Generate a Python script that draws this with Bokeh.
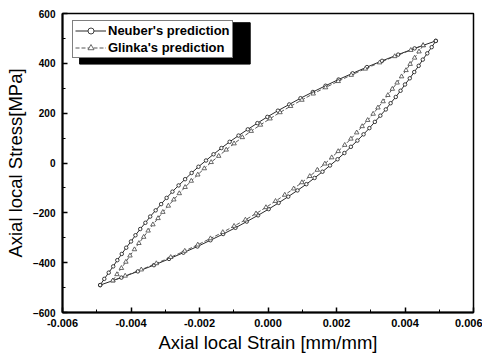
from bokeh.plotting import figure
from bokeh.models import (Range1d, FixedTicker, PrintfTickFormatter, Legend, LegendItem)
from bokeh.embed import file_html
from bokeh.resources import INLINE

# ---- data ----
x_ticks = [-0.006, -0.004, -0.002, 0.0, 0.002, 0.004, 0.006]
x_minor = [-0.005, -0.003, -0.001, 0.001, 0.003, 0.005]
y_ticks = [-600, -400, -200, 0, 200, 400, 600]
y_minor = [-500, -300, -100, 100, 300, 500]
x_title = "Axial local Strain [mm/mm]"
y_title = "Axial local Stress[MPa]"
series_names = ["Neuber's prediction", "Glinka's prediction"]

neuber_up_strain = [-0.0049, -0.00478, -0.00465, -0.00452, -0.0044, -0.00427, -0.00414,
                    -0.004, -0.00387, -0.00373, -0.00358, -0.00344, -0.00328, -0.00312,
                    -0.00296, -0.00279, -0.00261, -0.00242, -0.00223, -0.00203, -0.00181,
                    -0.00159, -0.00136, -0.00112, -0.00086, -0.00059, -0.00031, -0.00002,
                    0.00029, 0.00062, 0.00095, 0.00131, 0.00168, 0.00206, 0.00247,
                    0.00289, 0.00333, 0.0038, 0.00428, 0.0049]
neuber_up_stress = [-490, -465, -440, -415, -390, -365, -340, -315, -290, -265, -240, -215,
                    -190, -165, -140, -115, -90, -65, -40, -15, 10, 35, 60, 85, 110, 135,
                    160, 185, 210, 235, 260, 285, 310, 335, 360, 385, 410, 435, 460, 490]
neuber_dn_strain = [0.0049, 0.00478, 0.00465, 0.00452, 0.0044, 0.00427, 0.00414,
                    0.004, 0.00387, 0.00373, 0.00358, 0.00344, 0.00328, 0.00312,
                    0.00296, 0.00279, 0.00261, 0.00242, 0.00223, 0.00203, 0.00181,
                    0.00159, 0.00136, 0.00112, 0.00086, 0.00059, 0.00031, 0.00002,
                    -0.00029, -0.00062, -0.00095, -0.00131, -0.00168, -0.00206, -0.00247,
                    -0.00289, -0.00333, -0.0038, -0.00428, -0.0049]
neuber_dn_stress = [490, 465, 440, 415, 390, 365, 340, 315, 290, 265, 240, 215,
                    190, 165, 140, 115, 90, 65, 40, 15, -10, -35, -60, -85, -110, -135,
                    -160, -185, -210, -235, -260, -285, -310, -335, -360, -385, -410,
                    -435, -460, -490]

glinka_up_strain = [-0.00453, -0.00441, -0.00428, -0.00415, -0.00403, -0.0039, -0.00377,
                    -0.00363, -0.0035, -0.00336, -0.00321, -0.00307, -0.00291, -0.00275,
                    -0.00259, -0.00242, -0.00224, -0.00205, -0.00186, -0.00166, -0.00144,
                    -0.00122, -0.00099, -0.00075, -0.00049, -0.00022, 0.00006, 0.00035,
                    0.00066, 0.00099, 0.00132, 0.00168, 0.00205, 0.00243, 0.00284,
                    0.00326, 0.0037, 0.00417, 0.00453]
glinka_up_stress = [-472, -447, -422, -397, -372, -347, -322, -297, -272, -247, -222, -197,
                    -172, -147, -122, -97, -72, -47, -22, 3, 28, 53, 78, 103, 128, 153,
                    178, 203, 228, 253, 278, 303, 328, 353, 378, 403, 428, 453, 472]
glinka_dn_strain = [0.00453, 0.00441, 0.00428, 0.00415, 0.00403, 0.0039, 0.00377,
                    0.00363, 0.0035, 0.00336, 0.00321, 0.00307, 0.00291, 0.00275,
                    0.00259, 0.00242, 0.00224, 0.00205, 0.00186, 0.00166, 0.00144,
                    0.00122, 0.00099, 0.00075, 0.00049, 0.00022, -0.00006, -0.00035,
                    -0.00066, -0.00099, -0.00132, -0.00168, -0.00205, -0.00243, -0.00284,
                    -0.00326, -0.0037, -0.00417, -0.00453]
glinka_dn_stress = [472, 447, 422, 397, 372, 347, 322, 297, 272, 247, 222, 197,
                    172, 147, 122, 97, 72, 47, 22, -3, -28, -53, -78, -103, -128, -153,
                    -178, -203, -228, -253, -278, -303, -328, -353, -378, -403, -428,
                    -453, -472]

FONT = "Liberation Sans"

p = figure(width=482, height=357, output_backend="svg", toolbar_location=None,
           x_range=Range1d(-0.006, 0.006), y_range=Range1d(-600, 600),
           min_border_left=62, min_border_right=9, min_border_top=13, min_border_bottom=45,
           background_fill_color="white", border_fill_color="white")
p.grid.visible = False
p.outline_line_color = "black"
p.outline_line_width = 1.5

# legend drop shadow (decoration)
p.quad(left=-0.0055, right=-0.00052, bottom=397, top=563, fill_color="black",
       line_color="black")

# curves
NCOL = "#111111"
GCOL = "#444444"
nu = p.line(neuber_up_strain, neuber_up_stress, line_color=NCOL, line_width=0.9)
nus = p.scatter(neuber_up_strain, neuber_up_stress, marker="circle", size=3.5,
                fill_color="white", line_color=NCOL, line_width=0.8)
p.line(neuber_dn_strain, neuber_dn_stress, line_color=NCOL, line_width=0.9)
p.scatter(neuber_dn_strain, neuber_dn_stress, marker="circle", size=3.5,
          fill_color="white", line_color=NCOL, line_width=0.8)

gu = p.line(glinka_up_strain, glinka_up_stress, line_color=GCOL, line_width=0.9,
            line_dash="4 2")
gus = p.scatter(glinka_up_strain, glinka_up_stress, marker="triangle", size=4.5,
                fill_color="white", line_color=GCOL, line_width=0.8)
p.line(glinka_dn_strain, glinka_dn_stress, line_color=GCOL, line_width=0.9,
       line_dash="4 2")
p.scatter(glinka_dn_strain, glinka_dn_stress, marker="triangle", size=4.5,
          fill_color="white", line_color=GCOL, line_width=0.8)

# axes
xa = p.xaxis[0]
xa.ticker = FixedTicker(ticks=x_ticks, minor_ticks=x_minor)
xa.formatter = PrintfTickFormatter(format="%.3f")
xa.axis_label = x_title
ya = p.yaxis[0]
ya.ticker = FixedTicker(ticks=y_ticks, minor_ticks=y_minor)
ya.axis_label = y_title
for ax in (xa, ya):
    ax.axis_line_width = 2
    ax.axis_line_color = "black"
    ax.major_tick_in = 5
    ax.major_tick_out = 0
    ax.minor_tick_in = 3
    ax.minor_tick_out = 0
    ax.major_tick_line_width = 1.5
    ax.minor_tick_line_width = 1
    ax.major_label_text_font = FONT
    ax.major_label_text_font_style = "bold"
    ax.major_label_text_color = "black"
    ax.axis_label_text_font = FONT
    ax.axis_label_text_font_style = "normal"
    ax.axis_label_text_font_size = "18.5px"
    ax.axis_label_text_color = "black"
xa.major_label_text_font_size = "11px"
ya.major_label_text_font_size = "10px"
xa.major_label_standoff = 6
ya.major_label_standoff = 7
xa.axis_label_standoff = 2
ya.axis_label_standoff = 4

legend = Legend(items=[LegendItem(label=series_names[0], renderers=[nu, nus]),
                       LegendItem(label=series_names[1], renderers=[gu, gus])],
                location=(10, 254))
legend.border_line_color = "black"
legend.border_line_width = 1.2
legend.background_fill_alpha = 1
legend.label_text_font = FONT
legend.label_text_font_style = "bold"
legend.label_text_font_size = "13px"
legend.label_text_color = "black"
legend.glyph_width = 31
legend.glyph_height = 15
legend.label_height = 15
legend.label_standoff = 2
legend.spacing = 2
legend.padding = 2
legend.margin = 0
p.add_layout(legend)

open("out.html", "w").write(file_html(p, INLINE))
